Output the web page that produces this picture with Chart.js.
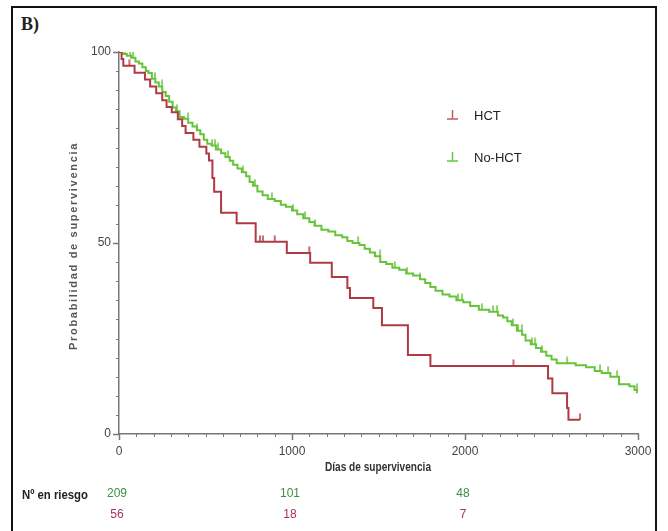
<!DOCTYPE html>
<html>
<head>
<meta charset="utf-8">
<script src="https://cdn.jsdelivr.net/npm/chart.js@4.4.0/dist/chart.umd.min.js"></script>
<style>
html, body { margin: 0; padding: 0; background: #fff; overflow: hidden; }
#wrap { position: relative; width: 668px; height: 531px; }
#frame { position: absolute; left: 11px; top: 6px; width: 646px; height: 540px; border: 2px solid #111; box-sizing: border-box; }
#lab { position: absolute; left: 21px; top: 14px; font: bold 18px "Liberation Serif", serif; color: #222; }
canvas { position: absolute; left: 0; top: 0; }
</style>
</head>
<body>
<div id="wrap">
  <div id="frame"></div>
  <div id="lab">B)</div>
  <canvas id="myChart" width="668" height="531"></canvas>
</div>
<script>
// Kaplan-Meier steps: day of event, survival (%) after it
var hctDays = [0, 15, 25, 90, 150, 180, 215, 250, 275, 305, 340, 365, 385, 430, 465, 505, 520, 540, 550, 590, 680, 790, 970, 1105, 1230, 1320, 1335, 1470, 1520, 1670, 1800, 2480, 2505, 2590, 2598, 2665];
var hctSurv = [100, 98.2, 96.4, 94.6, 92.8, 91, 89.2, 87.4, 85.6, 84.2, 82.4, 80.6, 78.8, 77, 75.2, 73.4, 71.6, 67, 63.4, 57.9, 55.2, 50.3, 47.4, 44.8, 41.1, 38.2, 35.6, 33, 28.5, 20.7, 17.8, 14.5, 10.7, 6.8, 3.7, 3.7];
var hctCensor = [60, 815, 832, 900, 1100, 2280, 2665];

var noHctDays = [0, 20, 45, 70, 95, 115, 135, 155, 170, 190, 210, 230, 250, 270, 290, 310, 330, 350, 375, 400, 425, 450, 470, 490, 510, 535, 560, 590, 615, 640, 660, 685, 710, 735, 755, 775, 800, 830, 860, 900, 935, 965, 1000, 1030, 1065, 1100, 1130, 1170, 1210, 1250, 1290, 1320, 1350, 1390, 1420, 1450, 1480, 1510, 1545, 1580, 1620, 1660, 1700, 1740, 1770, 1800, 1830, 1870, 1910, 1950, 1990, 2030, 2080, 2140, 2190, 2220, 2245, 2270, 2300, 2330, 2350, 2380, 2410, 2440, 2470, 2500, 2530, 2640, 2700, 2750, 2790, 2840, 2890, 2950, 2980, 2995];
var noHctSurv = [100, 99.5, 99, 98.5, 97.5, 97, 96, 95, 94.5, 93, 92, 91, 89.5, 88.5, 87, 85.5, 84.5, 83, 82.5, 81.5, 80.5, 79.5, 78.5, 77, 76, 75.5, 74.5, 73.5, 72.5, 71.5, 70.5, 69.5, 68.5, 67.5, 66, 65, 63.5, 62.5, 61.5, 61, 60, 59.5, 58.5, 57.5, 56.5, 55.5, 54.5, 53.5, 53, 52, 51.5, 50.5, 50, 49.5, 48.5, 47.5, 46.5, 45, 44.5, 43.5, 43, 42, 41.5, 40.5, 39.5, 38.5, 37.5, 36.5, 36, 35, 34.5, 33.5, 32.5, 32, 31, 30.5, 29.5, 28.5, 27, 26, 24.5, 23.5, 22.5, 21.5, 20.5, 19.5, 18.5, 18, 17.5, 16.5, 16, 15, 13, 12.5, 11.5, 10.7];
var noHctCensor = [35, 64, 81, 208, 249, 335, 399, 451, 538, 555, 572, 630, 717, 786, 884, 1006, 1075, 1133, 1382, 1509, 1595, 1665, 1740, 1960, 1983, 2098, 2162, 2185, 2277, 2306, 2329, 2387, 2405, 2445, 2590, 2780, 2827, 2879, 2994];

var riskTimes = [0, 1000, 2000];
var riskNoHct = [209, 101, 48];
var riskHct = [56, 18, 7];

var redCol = '#b03a44';
var greenCol = '#66c43a';

function survAt(days, surv, t) {
  var v = surv[0];
  for (var i = 0; i < days.length; i++) {
    if (days[i] <= t) v = surv[i];
  }
  return v;
}

function steps(days, surv) {
  return days.map(function (d, i) { return { x: d, y: surv[i] }; });
}

function censors(list, days, surv) {
  return list.map(function (d) { return { x: d, y: survAt(days, surv, d) }; });
}

function censorMark(color) {
  var c = document.createElement('canvas');
  c.width = 6; c.height = 14;
  var g = c.getContext('2d');
  g.strokeStyle = color; g.lineWidth = 1.5;
  g.beginPath(); g.moveTo(3, 0.5); g.lineTo(3, 7); g.stroke();
  return c;
}

function squeeze(ctx, text, x, y, width, align) {
  var w = ctx.measureText(text).width;
  var sx = width / w;
  ctx.save();
  ctx.translate(x, y);
  ctx.scale(sx, 1);
  ctx.textAlign = align;
  ctx.fillText(text, 0, 0);
  ctx.restore();
}

var extras = {
  id: 'extras',
  afterDraw: function (chart) {
    var ctx = chart.ctx;
    var xs = chart.scales.x, ys = chart.scales.y;
    ctx.save();
    ctx.strokeStyle = '#777';
    xs.ticks.forEach(function (t) {
      var major = t.value % 1000 === 0;
      var px = Math.round(xs.getPixelForValue(t.value)) + 0.5;
      ctx.lineWidth = major ? 1.5 : 1;
      ctx.beginPath(); ctx.moveTo(px, xs.top); ctx.lineTo(px, xs.top + (major ? 6 : 3)); ctx.stroke();
    });
    ys.ticks.forEach(function (t) {
      var major = t.value % 50 === 0;
      var py = Math.round(ys.getPixelForValue(t.value)) + 0.5;
      ctx.lineWidth = major ? 1.5 : 1;
      ctx.beginPath(); ctx.moveTo(ys.right, py); ctx.lineTo(ys.right - (major ? 6 : 3), py); ctx.stroke();
    });

    // axis titles
    ctx.fillStyle = '#333';
    ctx.textBaseline = 'middle';
    ctx.font = 'bold 12px "Liberation Sans", sans-serif';
    squeeze(ctx, 'Días de supervivencia', 378, 468, 106, 'center');
    ctx.save();
    ctx.translate(74, 246);
    ctx.rotate(-Math.PI / 2);
    ctx.font = 'bold 10px "Liberation Sans", sans-serif';
    ctx.fillStyle = '#555';
    ctx.letterSpacing = '1.5px';
    squeeze(ctx, 'Probabilidad de supervivencia', 0, 0, 208, 'center');
    ctx.restore();

    // numbers at risk
    ctx.fillStyle = '#222';
    ctx.font = 'bold 12px "Liberation Sans", sans-serif';
    squeeze(ctx, 'Nº en riesgo', 22, 496, 66, 'left');
    ctx.font = '12px "Liberation Sans", sans-serif';
    ctx.textAlign = 'center';
    riskTimes.forEach(function (t, i) {
      var px = xs.getPixelForValue(t);
      ctx.fillStyle = '#3f8f3f';
      ctx.fillText(String(riskNoHct[i]), px - 2, 494);
      ctx.fillStyle = '#a8325a';
      ctx.fillText(String(riskHct[i]), px - 2, 515);
    });

    // legend
    var items = [{ label: 'HCT', color: '#c65a60', y: 119 }, { label: 'No-HCT', color: '#5fcc3c', y: 161 }];
    ctx.font = '13px "Liberation Sans", sans-serif';
    ctx.textAlign = 'left';
    items.forEach(function (it) {
      ctx.strokeStyle = it.color;
      ctx.lineWidth = 1.5;
      ctx.beginPath();
      ctx.moveTo(447, it.y); ctx.lineTo(458, it.y);
      ctx.moveTo(452.5, it.y); ctx.lineTo(452.5, it.y - 9);
      ctx.stroke();
      ctx.fillStyle = '#222';
      ctx.fillText(it.label, 474, it.y - 3);
    });
    ctx.restore();
  }
};

var config = {
  type: 'line',
  data: {
    datasets: [
      { label: 'HCT', data: steps(hctDays, hctSurv), stepped: true, borderColor: redCol, borderWidth: 2, pointRadius: 0, fill: false },
      { label: 'No-HCT', data: steps(noHctDays, noHctSurv), stepped: true, borderColor: greenCol, borderWidth: 2, pointRadius: 0, fill: false },
      { label: 'HCT censored', data: censors(hctCensor, hctDays, hctSurv), showLine: false, pointStyle: censorMark(redCol), pointRadius: 3 },
      { label: 'No-HCT censored', data: censors(noHctCensor, noHctDays, noHctSurv), showLine: false, pointStyle: censorMark(greenCol), pointRadius: 3 }
    ]
  },
  options: {
    responsive: false,
    animation: false,
    events: [],
    layout: { padding: { left: 0, right: 30, top: 52, bottom: 0 } },
    plugins: { legend: { display: false }, tooltip: { enabled: false } },
    scales: {
      x: {
        type: 'linear', min: 0, max: 3000,
        grid: { display: false, drawTicks: false },
        border: { color: '#777', width: 1.5 },
        ticks: {
          stepSize: 100, autoSkip: false, maxRotation: 0, padding: 10,
          color: '#444', font: { family: 'Liberation Sans', size: 12 },
          callback: function (v) { return v % 1000 === 0 ? String(v) : ''; }
        },
        afterFit: function (s) { s.height = 97; }
      },
      y: {
        min: 0, max: 100,
        grid: { display: false, drawTicks: false },
        border: { color: '#777', width: 1.5 },
        ticks: {
          stepSize: 5, autoSkip: false, padding: 8,
          color: '#444', font: { family: 'Liberation Sans', size: 12 },
          callback: function (v) { return v % 50 === 0 ? String(v) : ''; }
        },
        afterFit: function (s) { s.width = 119; }
      }
    }
  },
  plugins: [extras]
};

var myChart = new Chart(document.getElementById('myChart'), config);
</script>
</body>
</html>
